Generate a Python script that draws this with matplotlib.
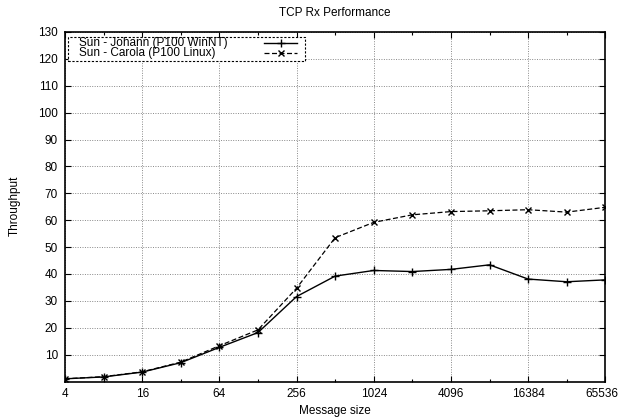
import matplotlib
matplotlib.use("Agg")
import matplotlib.pyplot as plt
import matplotlib.transforms as mtrans
from matplotlib.ticker import FixedLocator, NullFormatter
from matplotlib.lines import Line2D
from matplotlib.patches import Rectangle

plt.rcParams['font.family'] = ['Liberation Sans', 'DejaVu Sans']

sizes = [4, 8, 16, 32, 64, 128, 256, 512, 1024, 2048, 4096, 8192, 16384, 32768, 65536]
johann = [1.0, 1.7, 3.5, 7.0, 12.7, 18.2, 31.6, 39.2, 41.3, 40.9, 41.7, 43.4, 38.1, 37.1, 37.8]
carola = [1.0, 1.8, 3.6, 7.2, 13.3, 19.2, 34.7, 53.5, 59.2, 62.0, 63.2, 63.5, 63.9, 63.0, 64.8]
series_labels = ['Sun - Johann (P100 WinNT)', 'Sun - Carola (P100 Linux)']
major_x = [4, 16, 64, 256, 1024, 4096, 16384, 65536]
minor_x = [8, 32, 128, 512, 2048, 8192, 32768]
y_ticks = [10, 20, 30, 40, 50, 60, 70, 80, 90, 100, 110, 120, 130]

W, H = 620, 420
fig = plt.figure(figsize=(6.2, 4.2), dpi=100)
ax = fig.add_axes([65/W, (H-381.5)/H, 540.3/W, (381.5-32)/H])

styles = [
    dict(color='black', linestyle='-', linewidth=1.0, marker='+', markersize=6, markeredgewidth=1.0),
    dict(color='black', linestyle=(0, (4, 2)), linewidth=0.9, marker='x', markersize=5, markeredgewidth=1.0),
]
ax.plot(sizes, johann, **styles[0])
ax.plot(sizes, carola, **styles[1])

ax.set_xscale('log', base=2)
ax.set_xlim(4, 65536)
ax.set_ylim(0, 130)
ax.xaxis.set_major_locator(FixedLocator(major_x))
ax.set_xticklabels([str(v) for v in major_x])
ax.xaxis.set_minor_locator(FixedLocator(minor_x))
ax.xaxis.set_minor_formatter(NullFormatter())
ax.set_yticks(y_ticks)
ax.set_yticklabels([str(v) for v in y_ticks])

ax.tick_params(axis='both', which='both', direction='in', top=True, right=True,
               labelsize=8.5, width=0.8)
ax.tick_params(axis='both', which='major', length=4, pad=5)
ax.tick_params(axis='both', which='minor', length=2)

# nudge the last x tick label slightly left so it stays inside the image
last = ax.get_xticklabels()[-1]
last.set_transform(last.get_transform() + mtrans.ScaledTranslation(-3/100, 0, fig.dpi_scale_trans))

ax.grid(True, which='major', color='#888888', linestyle=(0, (1, 1.5)), linewidth=0.7)
for s in ax.spines.values():
    s.set_linewidth(1.2)

fig.text(335/W, 1 - 13/H, 'TCP Rx Performance', fontsize=8.5, ha='center', va='center')
fig.text(335/W, 1 - 411/H, 'Message size', fontsize=8.5, ha='center', va='center')
fig.text(15/W, 1 - 206/H, 'Throughput', fontsize=8.5, ha='center', va='center', rotation=90)

# legend box (figure pixel coordinates converted to fractions)
box = Rectangle((68/W, 1 - 61/H), (305-68)/W, (61-37)/H, transform=fig.transFigure,
                facecolor='white', edgecolor='black', linewidth=0.8,
                linestyle=(0, (2, 1.5)), zorder=5)
fig.add_artist(box)
for i, (lab, st) in enumerate(zip(series_labels, styles)):
    yy = 1 - (42.7 + 10.6 * i) / H
    fig.text(79/W, yy, lab, fontsize=8.5, ha='left', va='center', zorder=6)
    ln = Line2D([264/W, 297/W], [yy, yy], transform=fig.transFigure,
                color=st['color'], linestyle=st['linestyle'], linewidth=st['linewidth'], zorder=6)
    mk = Line2D([280.5/W], [yy], transform=fig.transFigure, color='black', linestyle='none',
                marker=st['marker'], markersize=st['markersize'],
                markeredgewidth=st['markeredgewidth'], zorder=6)
    fig.add_artist(ln)
    fig.add_artist(mk)

fig.savefig('out.png', dpi=100)
